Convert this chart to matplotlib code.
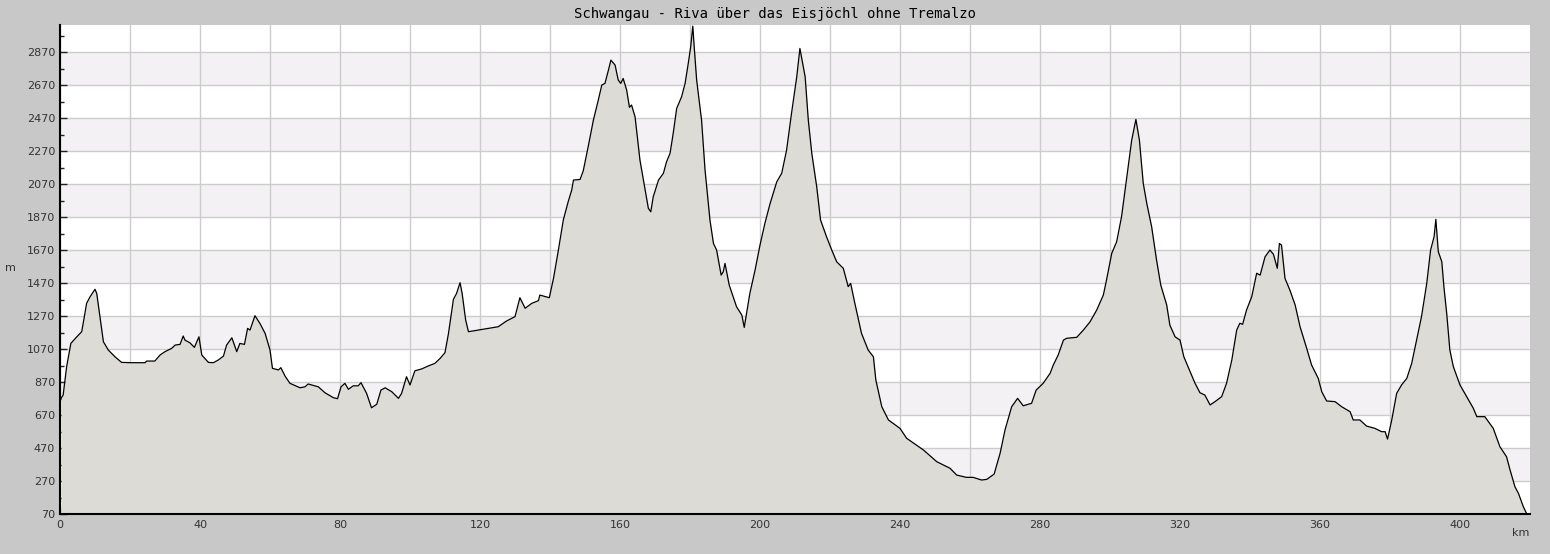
import matplotlib
matplotlib.use("Agg")
from matplotlib import pyplot as plt
from matplotlib.ticker import FixedLocator, FuncFormatter

# distance (km) and elevation (m)
km = [0.3, 0.9, 1.9, 3.1, 4.8, 6.2, 6.7, 7.6, 8.6, 10.0, 10.5, 11.4, 12.4, 13.8,
      15.7, 17.6, 20.5, 24.3, 24.8, 27.1, 28.6, 30.0, 31.9, 32.9, 34.3, 35.2,
      35.7, 37.1, 38.4, 39.7, 40.5, 42.4, 43.8, 45.2, 46.7, 47.6, 49.1, 50.5,
      51.4, 52.7, 53.6, 54.3, 55.7, 57.1, 58.6, 60.0, 60.7, 62.4, 63.1, 64.3,
      65.7, 68.6, 70.0, 70.9, 73.8, 75.7, 78.1, 79.3, 80.3, 81.4, 82.4, 83.8,
      85.2, 86.0, 87.6, 89.0, 90.5, 91.7, 92.9, 94.8, 96.7, 97.6, 99.0, 100.0,
      101.4, 103.3, 105.2, 107.1, 108.6, 110.0, 111.0, 112.4, 113.3, 114.3,
      114.9, 115.9, 116.7, 119.5, 122.4, 125.2, 127.6, 130.0, 131.4, 132.9,
      134.8, 136.7, 137.1, 139.8, 141.0, 142.4, 143.8, 145.2, 146.2, 146.7,
      148.6, 149.5, 151.0, 152.4, 153.8, 154.8, 155.7, 156.7, 157.4, 158.6,
      159.5, 160.2, 160.9, 161.9, 162.7, 163.3, 164.3, 165.7, 167.1, 168.1,
      168.8, 169.5, 171.0, 172.4, 173.3, 174.3, 175.2, 176.2, 177.6, 178.6,
      179.5, 180.2, 180.8, 181.2, 181.9, 183.3, 184.3, 185.7, 186.7, 187.6,
      188.9, 189.5, 190.0, 191.2, 193.3, 194.8, 195.5, 197.1, 198.6, 200.0,
      201.4, 202.9, 204.8, 206.2, 207.6, 209.0, 210.5, 211.4, 212.9, 213.8,
      214.8, 216.2, 217.3, 219.0, 220.5, 221.9, 223.8, 225.2, 225.9, 227.1,
      229.0, 230.9, 232.4, 233.1, 234.8, 236.7, 240.0, 241.9, 246.7, 250.5,
      254.3, 256.2, 259.0, 260.9, 263.3, 264.8, 266.9, 268.6, 270.0, 271.9,
      273.6, 275.2, 277.6, 278.9, 280.9, 282.9, 283.8, 285.2, 286.7, 287.6,
      290.5, 292.4, 294.3, 296.2, 298.1, 299.0, 300.5, 301.9, 303.3, 304.8,
      306.2, 307.4, 308.4, 309.5, 310.5, 311.9, 313.3, 314.5, 316.2, 317.1,
      318.6, 320.0, 321.1, 322.9, 324.3, 325.7, 327.1, 328.6, 330.0, 331.9,
      333.3, 334.8, 336.2, 337.1, 337.9, 339.0, 340.5, 341.9, 342.9, 344.3,
      345.7, 346.7, 347.8, 348.4, 349.0, 350.0, 351.4, 352.9, 354.3, 356.2,
      357.6, 359.5, 360.5, 361.9, 364.3, 366.2, 368.6, 369.5, 371.4, 373.3,
      375.7, 377.6, 378.6, 379.3, 380.5, 381.9, 383.3, 384.8, 386.2, 387.6,
      389.0, 390.5, 391.6, 392.6, 393.1, 393.8, 394.8, 395.4, 396.2, 397.1,
      398.1, 400.0, 401.9, 403.8, 404.8, 407.1, 409.5, 411.4, 413.3, 414.3,
      415.7, 416.7, 418.1, 419.0]

elev = [771, 791, 963, 1104, 1144, 1175, 1235, 1347, 1387, 1432, 1407, 1266,
        1114, 1064, 1023, 989, 987, 987, 997, 997, 1034, 1054, 1074, 1094,
        1098, 1149, 1124, 1108, 1080, 1144, 1034, 989, 987, 1003, 1027, 1094,
        1138, 1054, 1104, 1098, 1195, 1185, 1272, 1226, 1165, 1064, 953, 943,
        957, 906, 862, 835, 841, 858, 841, 805, 775, 769, 841, 862, 826, 847,
        847, 866, 801, 714, 735, 821, 835, 811, 771, 801, 902, 852, 938, 949,
        967, 983, 1013, 1048, 1165, 1371, 1407, 1472, 1407, 1246, 1175, 1185,
        1195, 1205, 1240, 1266, 1381, 1317, 1347, 1363, 1397, 1381, 1498,
        1670, 1852, 1963, 2033, 2094, 2098, 2150, 2306, 2458, 2579, 2670,
        2680, 2761, 2821, 2791, 2700, 2680, 2710, 2640, 2535, 2549, 2478,
        2215, 2044, 1923, 1902, 1993, 2094, 2135, 2205, 2256, 2377, 2529,
        2599, 2680, 2801, 2902, 3027, 2902, 2700, 2458, 2155, 1852, 1710,
        1670, 1518, 1538, 1589, 1458, 1326, 1276, 1201, 1407, 1549, 1700,
        1832, 1953, 2084, 2135, 2276, 2498, 2720, 2892, 2720, 2458, 2256,
        2054, 1852, 1751, 1670, 1599, 1559, 1448, 1468, 1347, 1165, 1064,
        1023, 882, 720, 640, 589, 529, 458, 387, 347, 306, 292, 292, 276, 280,
        312, 438, 579, 720, 771, 726, 741, 821, 862, 923, 973, 1034, 1124,
        1135, 1141, 1185, 1235, 1306, 1397, 1488, 1650, 1720, 1872, 2114,
        2336, 2462, 2336, 2074, 1953, 1811, 1609, 1458, 1337, 1215, 1144,
        1124, 1023, 932, 862, 805, 791, 731, 751, 781, 862, 1003, 1185, 1226,
        1220, 1306, 1387, 1529, 1518, 1629, 1670, 1644, 1559, 1710, 1700,
        1498, 1427, 1337, 1205, 1074, 973, 892, 811, 755, 751, 720, 690, 640,
        640, 603, 589, 569, 569, 524, 640, 801, 852, 892, 983, 1124, 1266,
        1468, 1670, 1751, 1856, 1660, 1599, 1448, 1286, 1064, 963, 852, 781,
        711, 660, 660, 589, 478, 417, 337, 235, 195, 114, 74]

ymin, ymax = 70, 3034
xmax = 420

fig = plt.figure(figsize=(15.5, 5.54), dpi=100, facecolor="#c8c8c8")
ax = fig.add_axes([60 / 1550, 40 / 554, 1470 / 1550, 489 / 554])
ax.set_facecolor("white")

# alternating horizontal bands
for y0 in range(270, 3000, 400):
    ax.axhspan(y0, y0 + 200, color="#f3f1f4", zorder=0, lw=0)

ax.fill_between(km, elev, ymin, color="#dcdbd6", zorder=2, lw=0)
ax.plot(km, elev, color="black", lw=0.9, zorder=3)

ax.set_xlim(0, xmax)
ax.set_ylim(ymin, ymax)

ax.xaxis.set_major_locator(FixedLocator(list(range(0, xmax, 20))))
ax.xaxis.set_minor_locator(FixedLocator(list(range(10, xmax, 20))))
ax.xaxis.set_major_formatter(FuncFormatter(lambda v, p: "%d" % v if v % 40 == 0 else ""))
ax.set_yticks(range(70, 3000, 200))
ax.set_yticks(range(170, 3034, 200), minor=True)

ax.grid(True, which="major", color="#cccccc", lw=1, zorder=1)
ax.set_axisbelow(True)

ax.tick_params(which="both", direction="in", colors="#222222", labelsize=8, labelcolor="#333333")
ax.tick_params(which="major", length=5, width=1)
ax.tick_params(which="minor", length=3, width=1)
ax.tick_params(axis="x", pad=4)

for s in ["top", "right"]:
    ax.spines[s].set_visible(False)
ax.spines["left"].set_linewidth(1.5)
ax.spines["bottom"].set_linewidth(1.5)

fig.text(10 / 1550, 1 - 268 / 554, "m", fontsize=8, color="#333333", ha="center", va="center")
fig.text(1521 / 1550, 1 - 533 / 554, "km", fontsize=8, color="#333333", ha="center", va="center")
fig.text(775 / 1550, 1 - 14 / 554, "Schwangau - Riva über das Eisjöchl ohne Tremalzo",
         fontsize=10, family="DejaVu Sans Mono", ha="center", va="center")

fig.savefig("out.png", dpi=100, facecolor=fig.get_facecolor())
